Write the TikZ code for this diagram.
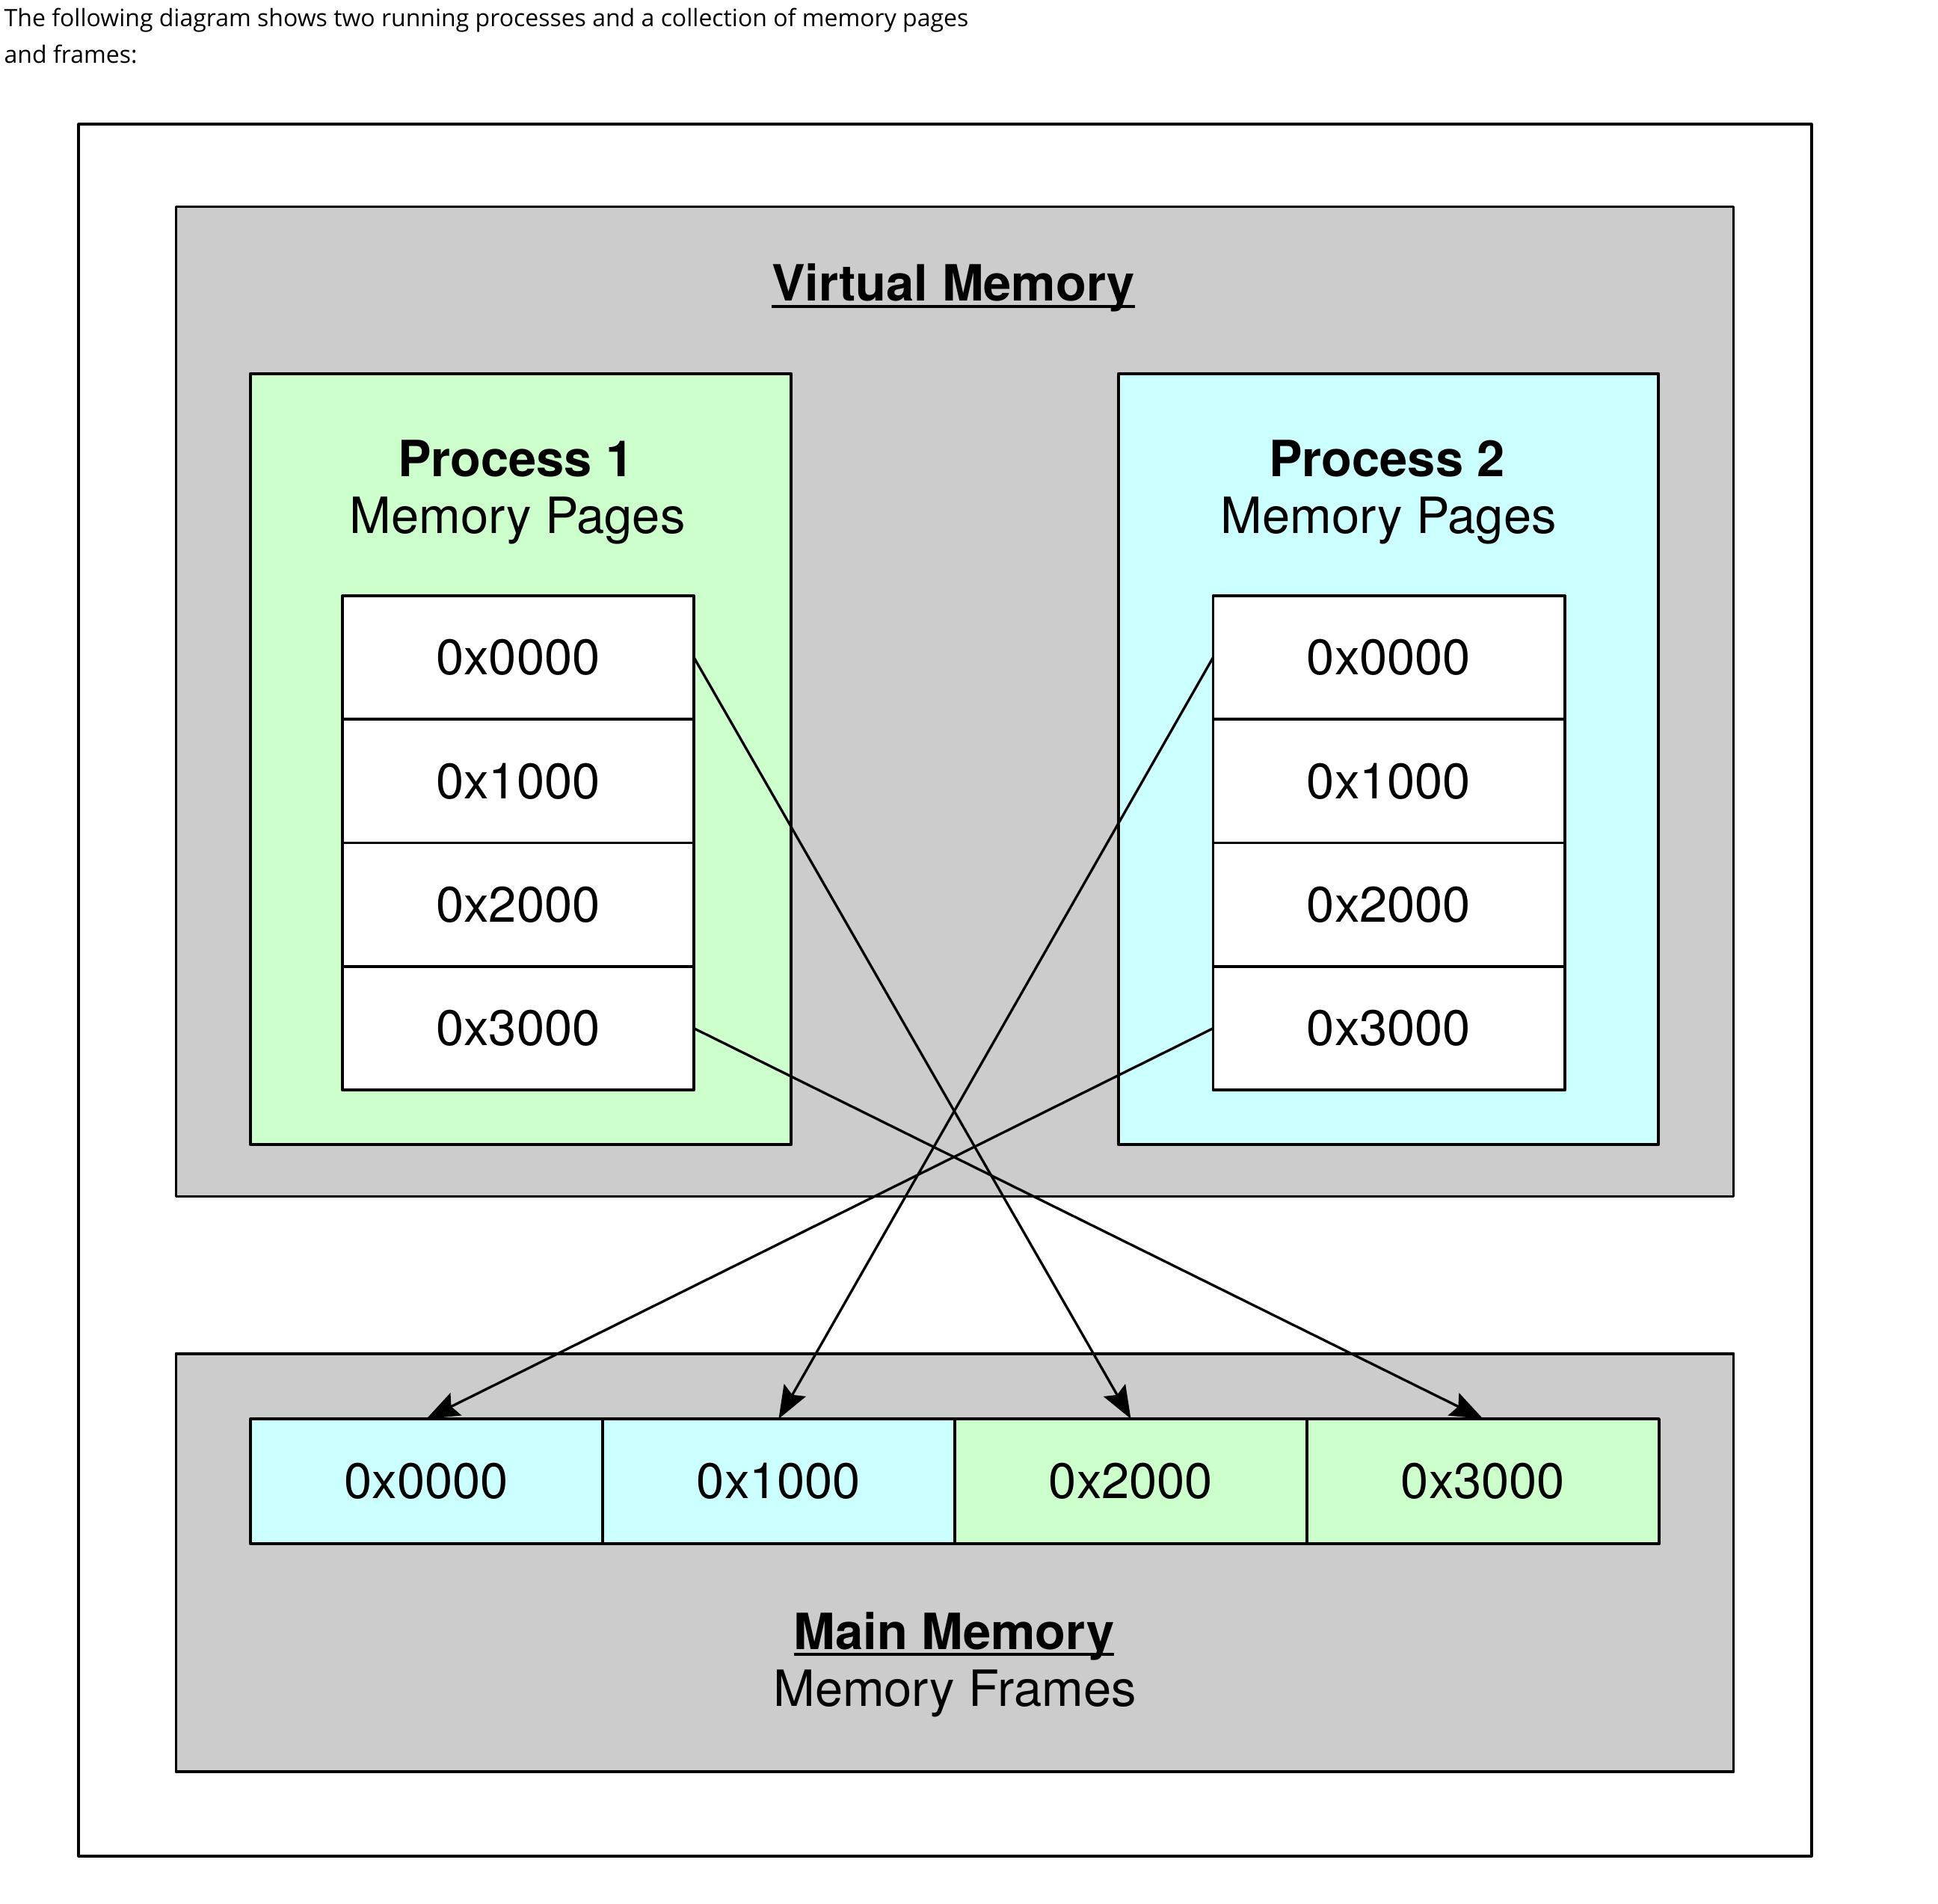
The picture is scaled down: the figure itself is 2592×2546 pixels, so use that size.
\documentclass[tikz,border=0pt]{standalone}
\usepackage{fontspec}
\setmainfont{TeX Gyre Heros}
\newfontfamily\introfont{Open Sans}
\usepackage{tikz}
\usetikzlibrary{arrows.meta}
\usetikzlibrary{positioning}
\definecolor{memgray}{HTML}{CCCCCC}
\definecolor{procgreen}{HTML}{CCFFCC}
\definecolor{proccyan}{HTML}{CCFFFF}
\newcommand{\ulbold}[1]{\setbox0\hbox{\bfseries #1}\rlap{\rule[-2.5pt]{\wd0}{1pt}}\box0}

\begin{document}
\begin{tikzpicture}[line cap=round,line join=round,x=0.01cm,y=-0.01cm,
  box/.style={draw=black,line width=1.05pt,inner sep=0pt,outer sep=0pt,rectangle},
  page/.style={box,fill=white,minimum width=4.7cm,minimum height=1.6525cm},
  frame/.style={box,minimum width=4.7075cm,minimum height=1.67cm},
  big/.style={font=\fontsize{19}{22}\selectfont},
  map/.style={line width=0.95pt,-{Stealth[length=12.5pt,width=9.5pt,inset=2pt]}}]
\useasboundingbox (0,0) rectangle (2592,2546);
% intro lines
\node[anchor=base west,inner sep=0pt,font=\introfont\fontsize{9.1}{11}\selectfont] (intro1) at (5,36) {The following diagram shows two running processes and a collection of memory pages};
\node[anchor=base west,inner sep=0pt,font=\introfont\fontsize{9.1}{11}\selectfont] (intro2) at (5,85) {and frames:};
% containers
\node[box,fill=white,minimum width=23.16cm,minimum height=23.15cm] (outer) at (1264,1324.5) {};
\node[box,fill=memgray,minimum width=20.82cm,minimum height=13.23cm] (vmem) at (1277,938.5) {};
\node[box,fill=procgreen,minimum width=7.23cm,minimum height=10.31cm] (proc1) at (696.5,1015.5) {};
\node[box,fill=proccyan,minimum width=7.22cm,minimum height=10.31cm] (proc2) at (1857,1015.5) {};
\node[box,fill=memgray,minimum width=20.82cm,minimum height=5.59cm] (mainmem) at (1277,2090.5) {};
% titles
\node[big,anchor=base,inner sep=0pt] (vmtitle) at (1275,403) {\ulbold{Virtual Memory}};
\node[big,anchor=base,inner sep=0pt] (p1title) at (690,637) {\textbf{Process 1}};
\node[big,anchor=base,inner sep=0pt] (p1sub) at (692,713) {Memory Pages};
\node[big,anchor=base,inner sep=0pt] (p2title) at (1855,637) {\textbf{Process 2}};
\node[big,anchor=base,inner sep=0pt] (p2sub) at (1857,713) {Memory Pages};
\node[big,anchor=base,inner sep=0pt] (mmtitle) at (1276,2206) {\ulbold{Main Memory}};
\node[big,anchor=base,inner sep=0pt] (mmsub) at (1277,2282) {Memory Frames};
% process 1 pages
\node[page,big] (p1a) at (693,879.6) {0x0000};
\node[page,big,below=0pt of p1a] (p1b) {0x1000};
\node[page,big,below=0pt of p1b] (p1c) {0x2000};
\node[page,big,below=0pt of p1c] (p1d) {0x3000};
% process 2 pages
\node[page,big] (p2a) at (1857.5,879.6) {0x0000};
\node[page,big,below=0pt of p2a] (p2b) {0x1000};
\node[page,big,below=0pt of p2b] (p2c) {0x2000};
\node[page,big,below=0pt of p2c] (p2d) {0x3000};
% frames
\node[frame,big,fill=proccyan] (fa) at (570.4,1981.5) {0x0000};
\node[frame,big,fill=proccyan,right=0pt of fa] (fb) {0x1000};
\node[frame,big,fill=procgreen,right=0pt of fb] (fc) {0x2000};
\node[frame,big,fill=procgreen,right=0pt of fc] (fd) {0x3000};
% mappings
\draw[map] (p1a.east) -- (fc.north);
\draw[map] (p1d.east) -- (fd.north);
\draw[map] (p2a.west) -- (fb.north);
\draw[map] (p2d.west) -- (fa.north);
\end{tikzpicture}
\end{document}
